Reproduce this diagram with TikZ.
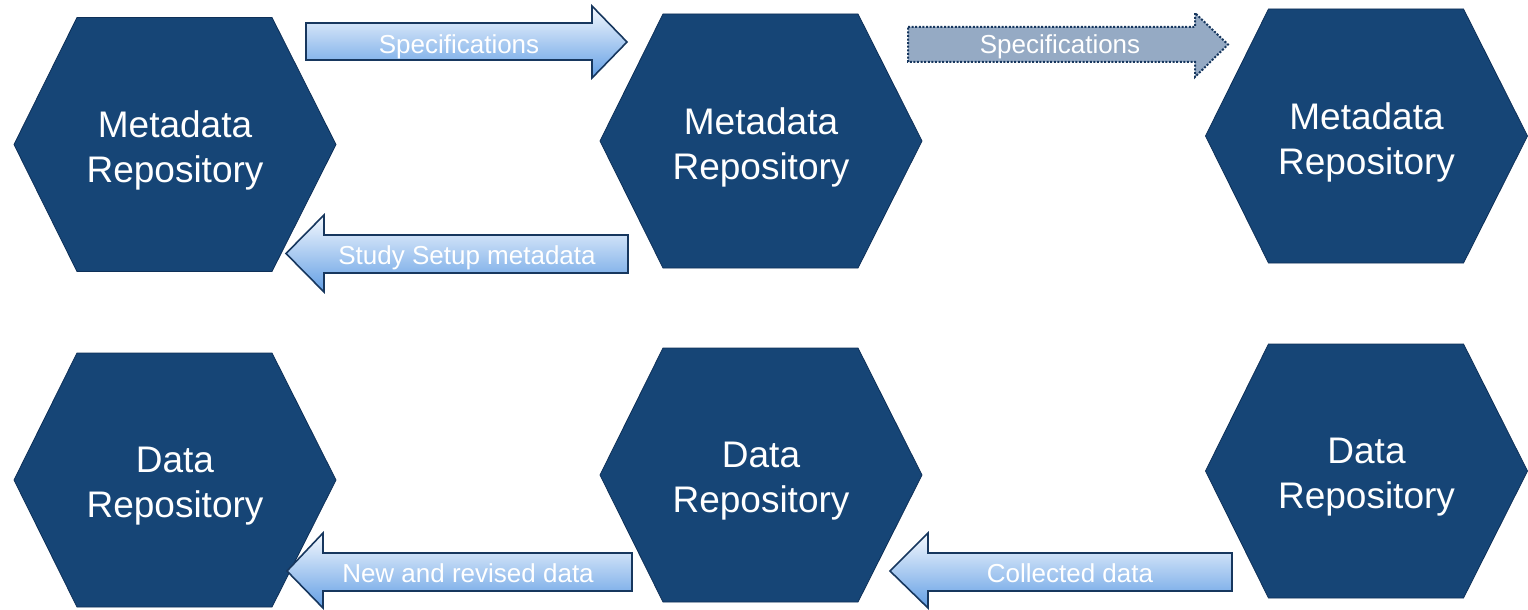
\documentclass[tikz,border=0pt]{standalone}
\usepackage{fontspec}
\setmainfont{Liberation Sans}
\definecolor{hexfill}{RGB}{22,69,118}
\definecolor{hexedge}{RGB}{14,48,88}
\definecolor{arrowedge}{RGB}{23,55,94}
\definecolor{gradtop}{RGB}{245,249,254}
\definecolor{gradmid}{RGB}{190,215,244}
\definecolor{gradbot}{RGB}{98,158,228}
\definecolor{greyfill}{RGB}{149,170,196}
\newcommand\hexblock[4]{%
  \filldraw[hexbody] (#2-161,#3) -- (#2-98,#3-127) -- (#2+97,#3-127) -- (#2+161,#3)
     -- (#2+97,#3+127) -- (#2-98,#3+127) -- cycle;
  \node[hextext] (#1) at (#2,#3+6) {#4};
}
\tikzset{
  hexbody/.style={fill=hexfill, draw=hexedge, line width=0.8pt},
  hextext/.style={text=white, align=center, inner sep=0pt, font=\fontsize{37}{45}\selectfont},
  blockarrow/.style={draw=arrowedge, line width=1.6pt, line join=miter, shading=axis,
     top color=gradtop, middle color=gradmid, bottom color=gradbot},
  greyarrow/.style={draw=arrowedge, line width=2pt, fill=greyfill, dash pattern=on 2pt off 1.6pt},
  arrowtext/.style={text=white, anchor=base, inner sep=0pt, font=\fontsize{26}{30}\selectfont}
}
\begin{document}
\begin{tikzpicture}[x=1pt,y=-1pt]
\useasboundingbox (0,0) rectangle (1528,610);
% hexagons
\hexblock{m1}{175}{144.5}{Metadata\\Repository}
\hexblock{m2}{761}{141}{Metadata\\Repository}
\hexblock{m3}{1366.5}{136}{Metadata\\Repository}
\hexblock{d1}{175}{480}{Data\\Repository}
\hexblock{d2}{761}{475}{Data\\Repository}
\hexblock{d3}{1366.5}{471}{Data\\Repository}
% arrow 1: Specifications (right)
\path[blockarrow] (306,23) -- (592,23) -- (592,6) -- (627,42) -- (592,78) -- (592,60) -- (306,60) -- cycle;
\node[arrowtext] (a1) at (459,53) {Specifications};
% arrow 2: Specifications (dotted, right)
\path[greyarrow] (908,27) -- (1195,27) -- (1195,13) -- (1228,44.5) -- (1195,77) -- (1195,62) -- (908,62) -- cycle;
\node[arrowtext] (a2) at (1060,54) {Specifications};
% arrow 3: Study Setup metadata (left)
\path[blockarrow] (628,235) -- (324,235) -- (324,215) -- (286,253.5) -- (324,292) -- (324,273) -- (628,273) -- cycle;
\node[arrowtext] (a3) at (467,264) {Study Setup metadata};
% arrow 4: New and revised data (left)
\path[blockarrow] (632,553) -- (323,553) -- (323,533) -- (287,571) -- (323,608) -- (323,591) -- (632,591) -- cycle;
\node[arrowtext] (a4) at (468,582) {New and revised data};
% arrow 5: Collected data (left)
\path[blockarrow] (1232,553) -- (928,553) -- (928,533) -- (890,571) -- (928,608) -- (928,591) -- (1232,591) -- cycle;
\node[arrowtext] (a5) at (1070,582) {Collected data};
\end{tikzpicture}
\end{document}
